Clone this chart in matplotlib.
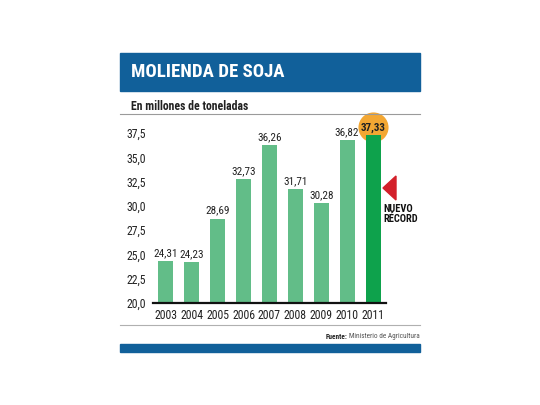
import matplotlib
matplotlib.use('Agg')
import matplotlib.pyplot as plt
from matplotlib.patches import Rectangle, Polygon
from matplotlib.lines import Line2D

# ------------------------------- DATA ---------------------------------------

years = ['2003', '2004', '2005', '2006', '2007', '2008', '2009', '2010', '2011']
molienda = [24.31, 24.23, 28.69, 32.73, 36.26, 31.71, 30.28, 36.82, 37.33]
yticks = [20.0, 22.5, 25.0, 27.5, 30.0, 32.5, 35.0, 37.5]

# ------------------------------- STYLE --------------------------------------

plt.rcParams['font.family'] = ['Roboto Condensed', 'Archivo Narrow', 'DejaVu Sans']
blue = '#11609a'
light_green = '#62bd88'
dark_green = '#0ea24c'
orange = '#f3a733'
red = '#d3202a'

W, H = 540.0, 405.0
def fx(px):
	return px / W
def fy(py):
	return 1 - py / H

fig = plt.figure(figsize=(5.4, 4.05), dpi=100)

# header and footer bars
fig.patches.append(Rectangle((fx(120), fy(91)), fx(300), 38 / H, transform=fig.transFigure,
	color=blue, zorder=0))
fig.patches.append(Rectangle((fx(120), fy(352)), fx(300), 8 / H, transform=fig.transFigure,
	color=blue, zorder=0))
fig.text(fx(131), fy(72), 'MOLIENDA DE SOJA', color='white', fontsize=13.5, fontweight='heavy',
	va='center', ha='left')
fig.text(fx(131), fy(106), 'En millones de toneladas', color='#222222', fontsize=8.5,
	fontweight='bold', va='center', ha='left')
fig.lines.append(Line2D([fx(120), fx(420)], [fy(114), fy(114)], transform=fig.transFigure,
	color='#9a9a9a', lw=0.8))
fig.lines.append(Line2D([fx(120), fx(420)], [fy(325), fy(325)], transform=fig.transFigure,
	color='#b0b0b0', lw=0.8))
fig.text(fx(347), fy(337), 'Fuente:', color='#222222', fontsize=5.2, fontweight='bold',
	ha='right', va='center')
fig.text(fx(349), fy(337), 'Ministerio de Agricultura', color='#555555', fontsize=5.2,
	ha='left', va='center')

# ------------------------------- CHART --------------------------------------

ax = fig.add_axes([fx(153), fy(303), 233 / W, 18.5 * 9.71 / H])
x = list(range(len(years)))
colors = [light_green] * (len(years) - 1) + [dark_green]
ax.bar(x, molienda, width=0.58, color=colors, zorder=2)

# record highlight
ax.scatter([x[-1]], [molienda[-1] + 0.75], s=470, color=orange, zorder=1, clip_on=False,
	linewidths=0)

for i, v in enumerate(molienda):
	lab = ('%.2f' % v).replace('.', ',')
	if i == len(molienda) - 1:
		ax.text(i, v + 0.75, lab, ha='center', va='center', fontsize=8, fontweight='bold',
			color='#222222', zorder=3)
	else:
		ax.text(i, v + 0.3, lab, ha='center', va='bottom', fontsize=8, color='#222222')

ax.set_xlim(-0.5, 8.5)
ax.set_ylim(20, 38.5)
ax.set_xticks(x)
ax.set_xticklabels(years)
ax.set_yticks(yticks)
ax.set_yticklabels([('%.1f' % t).replace('.', ',') for t in yticks])
ax.tick_params(axis='both', length=0, labelsize=8.5, colors='#222222')
ax.tick_params(axis='y', pad=5)
ax.tick_params(axis='x', pad=4)
for s in ['top', 'right', 'left']:
	ax.spines[s].set_visible(False)
ax.spines['bottom'].set_linewidth(1.6)
ax.spines['bottom'].set_color('#111111')
ax.spines['bottom'].set_zorder(4)
ax.patch.set_alpha(0)

# "nuevo record" marker
fig.patches.append(Polygon([[fx(383), fy(188)], [fx(396), fy(176)], [fx(396), fy(200)]],
	closed=True, transform=fig.transFigure, color=red))
fig.text(fx(383), fy(209), 'NUEVO', fontsize=7.5, fontweight='bold', color='#111111',
	ha='left', va='center')
fig.text(fx(383), fy(219), 'RÉCORD', fontsize=7.5, fontweight='bold', color='#111111',
	ha='left', va='center')

fig.savefig('out.png', dpi=100)
